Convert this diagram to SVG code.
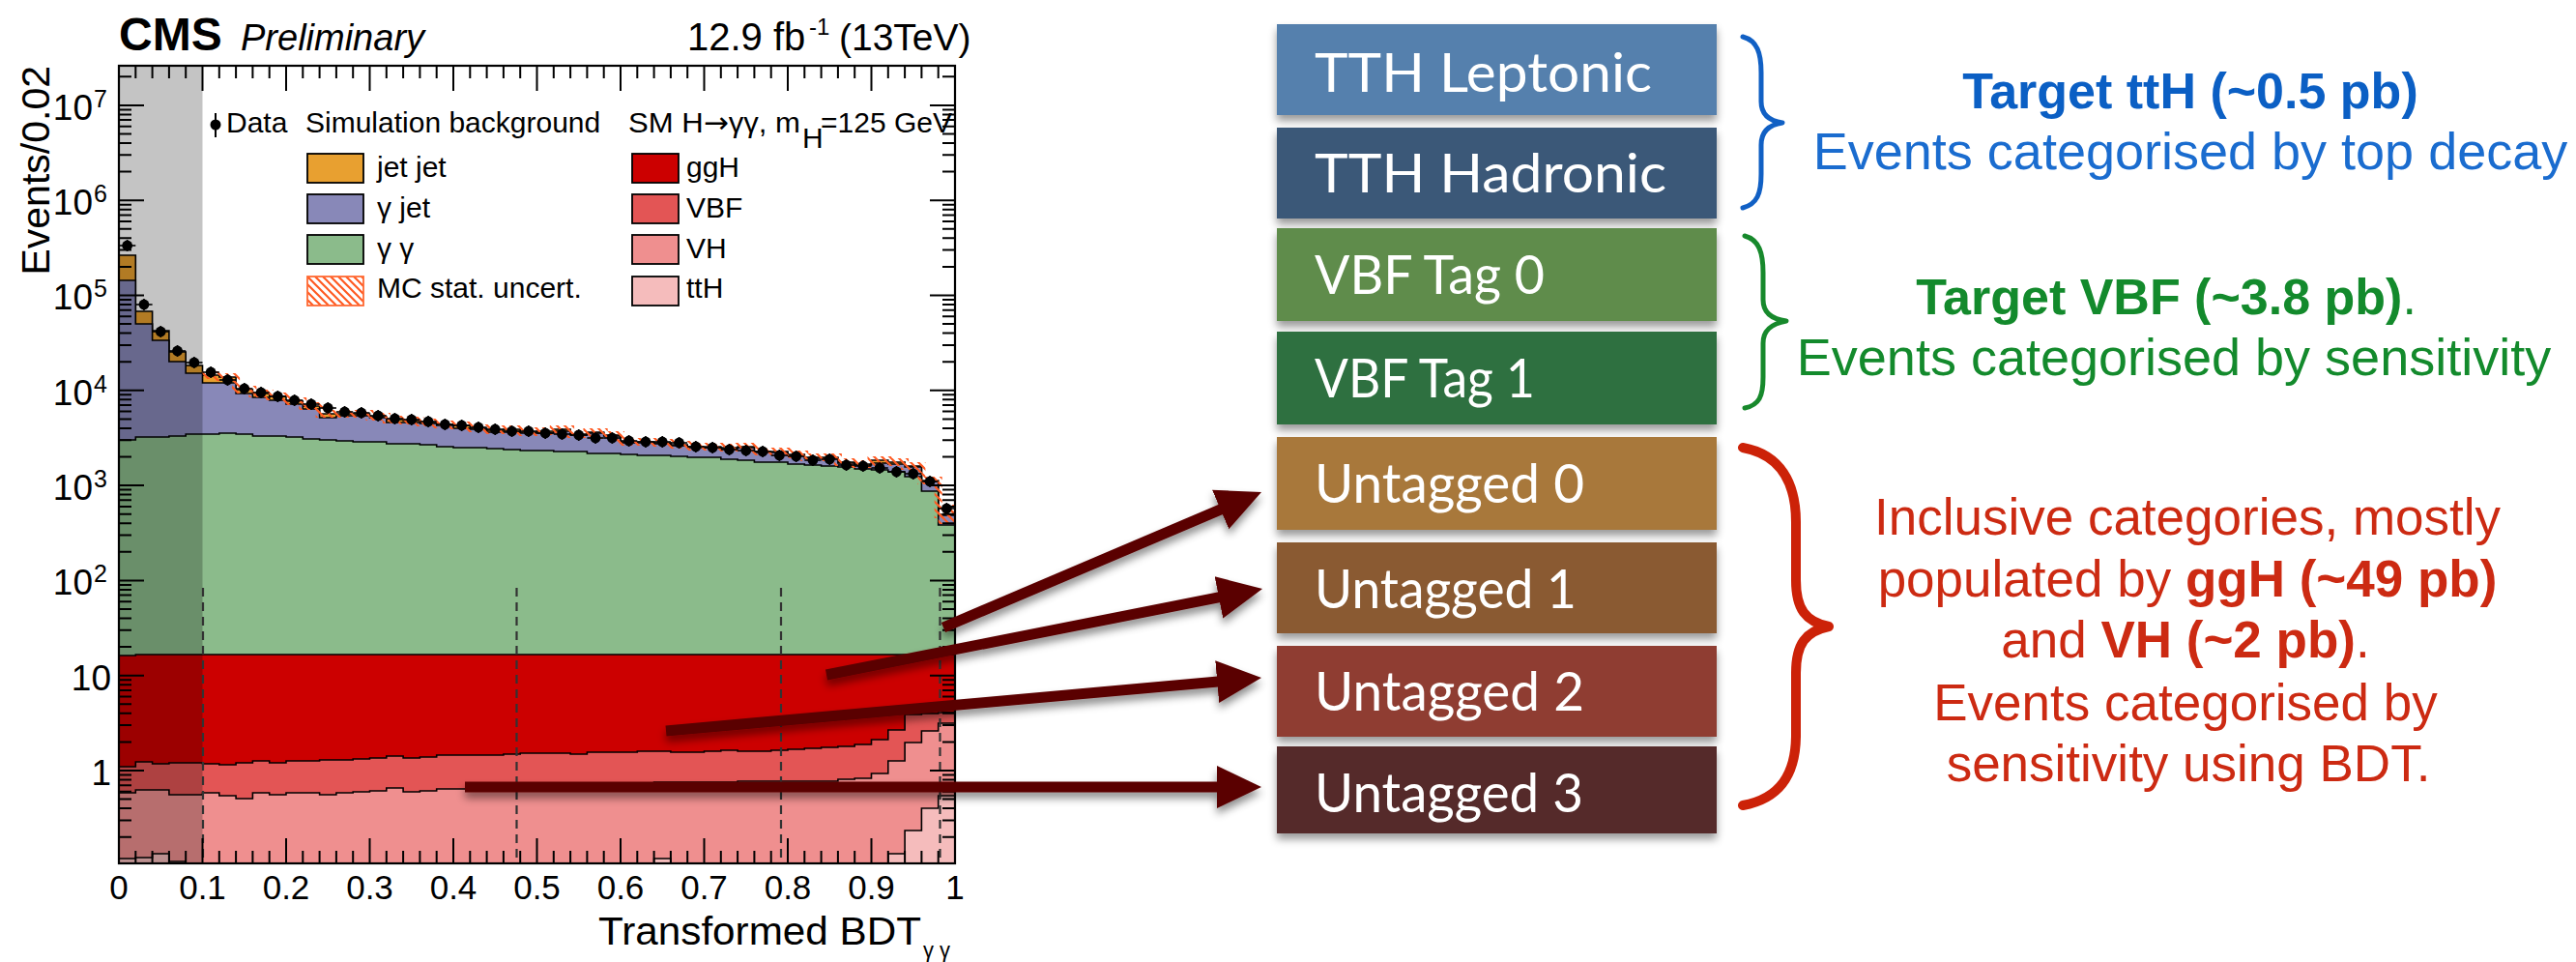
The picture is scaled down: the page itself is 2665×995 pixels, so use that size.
<svg xmlns="http://www.w3.org/2000/svg" xmlns:xlink="http://www.w3.org/1999/xlink" width="2665" height="995" viewBox="0 0 2665 995">
<style>
.sans{font-family:"Liberation Sans",Arial,Helvetica,sans-serif}
.lbl{font-family:"Liberation Sans",Arial,sans-serif;font-size:30px;fill:#000}
.tick{font-family:"Liberation Sans",Arial,sans-serif;font-size:37px;fill:#000}
.sup{font-family:"Liberation Sans",Arial,sans-serif;font-size:25px;fill:#000}
.xt{font-family:"Liberation Sans",Arial,sans-serif;font-size:35px;fill:#000;text-anchor:middle}
.hist{stroke:#000;stroke-width:1.6;stroke-linejoin:miter}
.box{filter:url(#dshadow)}
.boxt{font-family:Lato,"Open Sans","Liberation Sans",sans-serif;font-size:57px;fill:#fff}
.rt{font-family:"Liberation Sans",Arial,sans-serif;text-anchor:middle}
.b{font-weight:bold}
.arrow{fill:none;stroke:#5a0606;stroke-width:11;stroke-linecap:butt;marker-end:url(#ah)}
.brace{fill:none;stroke-linecap:round;stroke-linejoin:round}
.dash{stroke:#333;stroke-width:2.2;stroke-dasharray:9 6;fill:none}
</style>
<defs>
<clipPath id="frame"><rect x="123" y="68" width="865" height="825"/></clipPath>
<pattern id="hatch" patternUnits="userSpaceOnUse" width="8" height="8">
<path d="M-2,-2 L10,10 M-2,6 L2,10 M6,-2 L10,2" stroke="#ff5a22" stroke-width="2.2"/>
</pattern>
<filter id="dshadow" x="-5%" y="-10%" width="110%" height="140%">
<feDropShadow dx="0" dy="6" stdDeviation="4" flood-color="#000" flood-opacity="0.4"/>
</filter>
<filter id="ashadow" filterUnits="userSpaceOnUse" x="0" y="0" width="2665" height="995">
<feDropShadow dx="0" dy="6" stdDeviation="4" flood-color="#000" flood-opacity="0.45"/>
</filter>
<marker id="ah" markerUnits="userSpaceOnUse" markerWidth="46" markerHeight="46" viewBox="0 0 46 46" refX="1" refY="23" orient="auto">
<path d="M0,1 L46,23 L0,45 Z" fill="#5a0606"/>
</marker>
<g id="pt"><line x1="-8.65" y1="0" x2="8.65" y2="0" stroke="#000" stroke-width="1.6"/><line x1="0" y1="-6" x2="0" y2="6" stroke="#000" stroke-width="1.6"/><circle r="5.4" fill="#000"/></g>
<path id="yticks" d="M123,797h26M123,698.7h26M123,600.4h26M123,502.1h26M123,403.8h26M123,305.5h26M123,207.2h26M123,108.9h26M123,865.7h13M123,848.4h13M123,836.1h13M123,826.6h13M123,818.8h13M123,812.2h13M123,806.5h13M123,801.5h13M123,767.4h13M123,750.1h13M123,737.8h13M123,728.3h13M123,720.5h13M123,713.9h13M123,708.2h13M123,703.2h13M123,669.1h13M123,651.8h13M123,639.5h13M123,630h13M123,622.2h13M123,615.6h13M123,609.9h13M123,604.9h13M123,570.8h13M123,553.5h13M123,541.2h13M123,531.7h13M123,523.9h13M123,517.3h13M123,511.6h13M123,506.6h13M123,472.5h13M123,455.2h13M123,442.9h13M123,433.4h13M123,425.6h13M123,419h13M123,413.3h13M123,408.3h13M123,374.2h13M123,356.9h13M123,344.6h13M123,335.1h13M123,327.3h13M123,320.7h13M123,315h13M123,310h13M123,275.9h13M123,258.6h13M123,246.3h13M123,236.8h13M123,229h13M123,222.4h13M123,216.7h13M123,211.7h13M123,177.6h13M123,160.3h13M123,148h13M123,138.5h13M123,130.7h13M123,124.1h13M123,118.4h13M123,113.4h13M123,79.3h13" stroke="#000" stroke-width="2" fill="none"/>
<path id="xticks" d="M140.3,893v-13M157.6,893v-13M174.9,893v-13M192.2,893v-13M209.5,893v-26M226.8,893v-13M244.1,893v-13M261.4,893v-13M278.7,893v-13M296,893v-26M313.3,893v-13M330.6,893v-13M347.9,893v-13M365.2,893v-13M382.5,893v-26M399.8,893v-13M417.1,893v-13M434.4,893v-13M451.7,893v-13M469,893v-26M486.3,893v-13M503.6,893v-13M520.9,893v-13M538.2,893v-13M555.5,893v-26M572.8,893v-13M590.1,893v-13M607.4,893v-13M624.7,893v-13M642,893v-26M659.3,893v-13M676.6,893v-13M693.9,893v-13M711.2,893v-13M728.5,893v-26M745.8,893v-13M763.1,893v-13M780.4,893v-13M797.7,893v-13M815,893v-26M832.3,893v-13M849.6,893v-13M866.9,893v-13M884.2,893v-13M901.5,893v-26M918.8,893v-13M936.1,893v-13M953.4,893v-13M970.7,893v-13" stroke="#000" stroke-width="2" fill="none"/>
</defs>
<rect x="0" y="0" width="2665" height="995" fill="#fff"/>

<g id="plot">
<text class="sans b" x="123" y="52" font-size="48" font-weight="bold">CMS</text>
<text class="sans" x="249" y="52" font-size="38" font-style="italic">Preliminary</text>
<text class="sans" x="711" y="52" font-size="40">12.9 fb</text>
<text class="sans" x="837" y="36" font-size="24">-1</text>
<text class="sans" x="868" y="52" font-size="39">(13TeV)</text>

<g clip-path="url(#frame)">
<path class="hist" fill="#e8a030" d="M123,893 V264 H140.3 V322 H157.6 V342 H174.9 V364 H192.2 V378 H209.5 V388 H226.8 V390 H244.1 V403 H261.4 V407 H278.7 V410 H296 V415 H313.3 V420 H330.6 V428 H382.5 V431 H399.8 V434 H417.1 V435 H434.4 V437 H451.7 V439 H469 V440 H486.3 V443 H503.6 V445 H520.9 V444 H538.2 V447 H555.5 V446 H572.8 V444 H590.1 V449 H607.4 V447 H624.7 V450 H642 V457 H676.6 V458 H693.9 V460 H711.2 V462 H745.8 V463 H763.1 V462 H780.4 V467 H815 V470 H832.3 V473 H866.9 V478 H884.2 V480 H901.5 V476 H918.8 V478 H936.1 V482 H953.4 V497 H970.7 V532 H988 V893 Z"/>
<path class="hist" fill="#8888b8" d="M123,893 V290 H140.3 V335 H157.6 V352 H174.9 V374 H192.2 V386 H209.5 V396 H244.1 V407 H261.4 V411 H278.7 V414 H296 V418 H313.3 V423 H330.6 V432 H347.9 V430 H382.5 V432 H399.8 V437 H434.4 V438 H451.7 V440 H469 V443 H486.3 V444 H503.6 V447 H538.2 V448 H572.8 V446 H590.1 V450 H607.4 V448 H624.7 V451 H642 V458 H676.6 V459 H693.9 V461 H711.2 V463 H745.8 V464 H763.1 V463 H780.4 V468 H815 V471 H832.3 V474 H866.9 V479 H884.2 V481 H901.5 V479 H918.8 V480 H936.1 V483 H953.4 V498 H970.7 V533 H988 V893 Z"/>
<path class="hist" fill="#8bbb8b" d="M123,893 V455 H140.3 V452 H174.9 V451 H192.2 V449 H226.8 V448 H244.1 V449 H261.4 V451 H296 V452 H313.3 V454 H330.6 V455 H347.9 V456 H365.2 V457 H399.8 V459 H434.4 V460 H451.7 V462 H469 V463 H503.6 V464 H520.9 V465 H538.2 V466 H572.8 V467 H607.4 V469 H642 V470 H659.3 V471 H693.9 V472 H711.2 V473 H745.8 V475 H763.1 V476 H780.4 V478 H815 V480 H832.3 V481 H849.6 V482 H866.9 V483 H884.2 V485 H901.5 V486 H918.8 V488 H936.1 V493 H953.4 V508 H970.7 V543 H988 V893 Z"/>
<path class="hist" fill="#cc0000" d="M123,893 V678 H140.3 V677 H988 V893 Z"/>
<path class="hist" fill="#e35555" d="M123,893 V793 H140.3 V788 H157.6 V790 H174.9 V789 H209.5 V790 H226.8 V791 H244.1 V789 H261.4 V787 H278.7 V789 H296 V787 H330.6 V786 H365.2 V785 H382.5 V784 H399.8 V782 H417.1 V784 H434.4 V783 H451.7 V781 H520.9 V780 H538.2 V779 H590.1 V780 H607.4 V778 H659.3 V777 H693.9 V778 H728.5 V777 H745.8 V776 H763.1 V777 H797.7 V776 H815 V775 H832.3 V774 H849.6 V773 H866.9 V772 H884.2 V770 H901.5 V765 H918.8 V755 H936.1 V739 H953.4 V738 H970.7 V737 H988 V893 Z"/>
<path class="hist" fill="#ef8f8f" d="M123,893 V820 H140.3 V817 H174.9 V822 H209.5 V820 H226.8 V823 H244.1 V826 H261.4 V820 H278.7 V822 H296 V820 H330.6 V822 H347.9 V820 H365.2 V819 H382.5 V818 H399.8 V815 H417.1 V819 H434.4 V818 H451.7 V816 H503.6 V815 H538.2 V814 H572.8 V813 H590.1 V812 H624.7 V811 H642 V810 H676.6 V809 H763.1 V808 H866.9 V806 H884.2 V805 H901.5 V800 H918.8 V787 H936.1 V768 H953.4 V756 H970.7 V748 H988 V893 Z"/>
<path class="hist" fill="#f5bcbc" d="M123,893 V888 H140.3 V887 H157.6 V883 H174.9 V891 H192.2 V893 H676.6 V888 H693.9 V893 H918.8 V883 H936.1 V859 H953.4 V836 H970.7 V823 H988 V893 Z"/>
<path fill="none" stroke="url(#hatch)" stroke-width="8" d="M209.5,388 H226.8 V390 H244.1 V403 H261.4 V407 H278.7 V410 H296 V415 H313.3 V420 H330.6 V428 H382.5 V431 H399.8 V434 H417.1 V435 H434.4 V437 H451.7 V439 H469 V440 H486.3 V443 H503.6 V445 H520.9 V444 H538.2 V447 H555.5 V446 H572.8 V444 H590.1 V449 H607.4 V447 H624.7 V450 H642 V457 H676.6 V458 H693.9 V460 H711.2 V462 H745.8 V463 H763.1 V462 H780.4 V467 H815 V470 H832.3 V473 H866.9 V478 H884.2 V480 H901.5 V476 H918.8 V478 H936.1 V482 H953.4 V497 H970.7 V532 H988"/>
<rect x="970.7" y="522" width="17.3" height="20" fill="url(#hatch)"/>

<g id="data">
<use xlink:href="#pt" x="131.65" y="254"/><use xlink:href="#pt" x="148.95" y="315"/><use xlink:href="#pt" x="166.25" y="343"/><use xlink:href="#pt" x="183.55" y="363"/><use xlink:href="#pt" x="200.85" y="375"/>
<use xlink:href="#pt" x="218.15" y="385"/><use xlink:href="#pt" x="235.45" y="393"/><use xlink:href="#pt" x="252.75" y="402"/><use xlink:href="#pt" x="270.05" y="406"/><use xlink:href="#pt" x="287.35" y="410"/>
<use xlink:href="#pt" x="304.65" y="414"/><use xlink:href="#pt" x="321.95" y="418"/><use xlink:href="#pt" x="339.25" y="422"/><use xlink:href="#pt" x="356.55" y="426"/><use xlink:href="#pt" x="373.85" y="427"/>
<use xlink:href="#pt" x="391.15" y="430"/><use xlink:href="#pt" x="408.45" y="433"/><use xlink:href="#pt" x="425.75" y="434"/><use xlink:href="#pt" x="443.05" y="436"/><use xlink:href="#pt" x="460.35" y="439"/>
<use xlink:href="#pt" x="477.65" y="440"/><use xlink:href="#pt" x="494.95" y="442"/><use xlink:href="#pt" x="512.25" y="444"/><use xlink:href="#pt" x="529.55" y="446"/><use xlink:href="#pt" x="546.85" y="446"/>
<use xlink:href="#pt" x="564.15" y="448"/><use xlink:href="#pt" x="581.45" y="449"/><use xlink:href="#pt" x="598.75" y="450"/><use xlink:href="#pt" x="616.05" y="453"/><use xlink:href="#pt" x="633.35" y="453"/>
<use xlink:href="#pt" x="650.65" y="456"/><use xlink:href="#pt" x="667.95" y="457"/><use xlink:href="#pt" x="685.25" y="457"/><use xlink:href="#pt" x="702.55" y="458"/><use xlink:href="#pt" x="719.85" y="462"/>
<use xlink:href="#pt" x="737.15" y="463"/><use xlink:href="#pt" x="754.45" y="465"/><use xlink:href="#pt" x="771.75" y="466"/><use xlink:href="#pt" x="789.05" y="467"/><use xlink:href="#pt" x="806.35" y="471"/>
<use xlink:href="#pt" x="823.65" y="472"/><use xlink:href="#pt" x="840.95" y="476"/><use xlink:href="#pt" x="858.25" y="475"/><use xlink:href="#pt" x="875.55" y="481"/><use xlink:href="#pt" x="892.85" y="482"/>
<use xlink:href="#pt" x="910.15" y="484"/><use xlink:href="#pt" x="927.45" y="488"/><use xlink:href="#pt" x="944.75" y="490"/><use xlink:href="#pt" x="962.05" y="498"/><use xlink:href="#pt" x="979.35" y="526"/>
</g>

<rect x="123" y="68" width="86.5" height="825" fill="#000" fill-opacity="0.23"/>
<path class="dash" d="M210,608 V893 M534.5,608 V893 M808,608 V893 M972.5,608 V893"/>
</g>

<use xlink:href="#yticks"/>
<use xlink:href="#yticks" transform="translate(1111,0) scale(-1,1)"/>
<use xlink:href="#xticks"/>
<use xlink:href="#xticks" transform="translate(0,961) scale(1,-1)"/>
<rect x="123" y="68" width="865" height="825" fill="none" stroke="#000" stroke-width="2.2"/>

<text class="tick" x="96" y="124" text-anchor="end">10</text><text class="sup" x="97" y="111">7</text>
<text class="tick" x="96" y="222" text-anchor="end">10</text><text class="sup" x="97" y="209">6</text>
<text class="tick" x="96" y="320" text-anchor="end">10</text><text class="sup" x="97" y="307">5</text>
<text class="tick" x="96" y="419" text-anchor="end">10</text><text class="sup" x="97" y="406">4</text>
<text class="tick" x="96" y="517" text-anchor="end">10</text><text class="sup" x="97" y="504">3</text>
<text class="tick" x="96" y="615" text-anchor="end">10</text><text class="sup" x="97" y="602">2</text>
<text class="tick" x="115" y="714" text-anchor="end">10</text>
<text class="tick" x="115" y="812" text-anchor="end">1</text>

<text class="xt" x="123" y="930">0</text>
<text class="xt" x="209.5" y="930">0.1</text>
<text class="xt" x="296" y="930">0.2</text>
<text class="xt" x="382.5" y="930">0.3</text>
<text class="xt" x="469" y="930">0.4</text>
<text class="xt" x="555.5" y="930">0.5</text>
<text class="xt" x="642" y="930">0.6</text>
<text class="xt" x="728.5" y="930">0.7</text>
<text class="xt" x="815" y="930">0.8</text>
<text class="xt" x="901.5" y="930">0.9</text>
<text class="xt" x="988" y="930">1</text>

<text class="sans" x="619" y="977" font-size="40" textLength="334" lengthAdjust="spacingAndGlyphs">Transformed BDT</text>
<text class="sans" x="955" y="990" font-size="22">γ γ</text>
<text class="sans" font-size="41" transform="translate(51,68) rotate(-90)" text-anchor="end">Events/0.02</text>

<g id="legend">
<line x1="223" y1="117" x2="223" y2="142" stroke="#000" stroke-width="2"/>
<circle cx="223" cy="129" r="5.5" fill="#000"/>
<text class="lbl" x="234" y="137">Data</text>
<text class="lbl" x="316" y="137">Simulation background</text>
<text class="lbl" x="650" y="137" textLength="178" lengthAdjust="spacingAndGlyphs">SM H<tspan font-family="DejaVu Sans">→</tspan>γγ, m</text>
<text class="lbl" x="830" y="153" font-size="18">H</text>
<text class="lbl" x="849" y="137">=125 GeV</text>
<rect x="318" y="159" width="58" height="30" fill="#e8a030" stroke="#000" stroke-width="1.8"/>
<rect x="318" y="201" width="58" height="30" fill="#8888b8" stroke="#000" stroke-width="1.8"/>
<rect x="318" y="243" width="58" height="30" fill="#8bbb8b" stroke="#000" stroke-width="1.8"/>
<rect x="318" y="286" width="58" height="30" fill="url(#hatch)" stroke="#ff6a33" stroke-width="1.8"/>
<text class="lbl" x="390" y="183">jet jet</text>
<text class="lbl" x="390" y="225">γ jet</text>
<text class="lbl" x="390" y="267">γ γ</text>
<text class="lbl" x="390" y="308">MC stat. uncert.</text>
<rect x="654" y="159" width="48" height="30" fill="#cc0000" stroke="#000" stroke-width="1.8"/>
<rect x="654" y="201" width="48" height="30" fill="#e35555" stroke="#000" stroke-width="1.8"/>
<rect x="654" y="243" width="48" height="30" fill="#ef8f8f" stroke="#000" stroke-width="1.8"/>
<rect x="654" y="286" width="48" height="30" fill="#f5bcbc" stroke="#000" stroke-width="1.8"/>
<text class="lbl" x="710" y="183">ggH</text>
<text class="lbl" x="710" y="225">VBF</text>
<text class="lbl" x="710" y="267">VH</text>
<text class="lbl" x="710" y="308">ttH</text>
</g>
</g>

<g id="connectors" filter="url(#ashadow)">
<path class="arrow" d="M976,649 L1263.6,526.6"/>
<path class="arrow" d="M855,698 L1261.9,617.7"/>
<path class="arrow" d="M689,756 L1260.2,705"/>
<path class="arrow" d="M481,814 L1260,814"/>
</g>

<g id="node-tth-leptonic"><rect class="box" x="1321" y="25" width="455" height="94" fill="#5580ad"/><text class="boxt" x="1360" y="95" textLength="349" lengthAdjust="spacingAndGlyphs">TTH Leptonic</text></g>
<g id="node-tth-hadronic"><rect class="box" x="1321" y="132" width="455" height="94" fill="#3b5878"/><text class="boxt" x="1360" y="199" textLength="364" lengthAdjust="spacingAndGlyphs">TTH Hadronic</text></g>
<g id="node-vbf-tag0"><rect class="box" x="1321" y="236" width="455" height="96" fill="#5f8c4c"/><text class="boxt" x="1360" y="304" textLength="238" lengthAdjust="spacingAndGlyphs">VBF Tag 0</text></g>
<g id="node-vbf-tag1"><rect class="box" x="1321" y="343" width="455" height="96" fill="#2f7040"/><text class="boxt" x="1360" y="411" textLength="228" lengthAdjust="spacingAndGlyphs">VBF Tag 1</text></g>
<g id="node-untagged0"><rect class="box" x="1321" y="452" width="455" height="96" fill="#a8783a"/><text class="boxt" x="1360" y="520" textLength="279" lengthAdjust="spacingAndGlyphs">Untagged 0</text></g>
<g id="node-untagged1"><rect class="box" x="1321" y="561" width="455" height="94" fill="#8a5a32"/><text class="boxt" x="1360" y="629" textLength="271" lengthAdjust="spacingAndGlyphs">Untagged 1</text></g>
<g id="node-untagged2"><rect class="box" x="1321" y="668" width="455" height="94" fill="#8f3e30"/><text class="boxt" x="1360" y="735" textLength="279" lengthAdjust="spacingAndGlyphs">Untagged 2</text></g>
<g id="node-untagged3"><rect class="box" x="1321" y="772" width="455" height="90" fill="#552c2c"/><text class="boxt" x="1360" y="840" textLength="278" lengthAdjust="spacingAndGlyphs">Untagged 3</text></g>

<g id="group-tth">
<path class="brace" stroke="#1160c4" stroke-width="5" d="M1803,38 C1818,42 1822,55 1822,75 L1822,105 C1822,118 1830,125 1844,127 C1830,129 1822,136 1822,150 L1822,180 C1822,200 1818,211 1803,215"/>
<text class="rt b" x="2266" y="112" font-size="52" fill="#0b5fc4">Target ttH (~0.5 pb)</text>
<text class="rt" x="2266" y="175" font-size="54" fill="#1a6ccf">Events categorised by top decay</text>
</g>
<g id="group-vbf">
<path class="brace" stroke="#17892c" stroke-width="5" d="M1805,244 C1820,248 1824,262 1824,282 L1824,310 C1824,323 1832,330 1848,332 C1832,335 1824,342 1824,355 L1824,390 C1824,410 1820,419 1805,422"/>
<text class="rt" x="2241" y="325" font-size="52" fill="#138a2c"><tspan font-weight="bold">Target VBF (~3.8 pb)</tspan>.</text>
<text class="rt" x="2249" y="388" font-size="54" fill="#138a2c">Events categorised by sensitivity</text>
</g>
<g id="group-untagged">
<path class="brace" stroke="#cc2208" stroke-width="10" d="M1803,463 C1842,470 1858,500 1858,540 L1858,600 C1858,630 1868,643 1892,648 C1868,653 1858,666 1858,696 L1858,760 C1858,800 1842,826 1803,833"/>
<text class="rt" x="2263" y="553" font-size="53" fill="#cc2a12">Inclusive categories, mostly</text>
<text class="rt" x="2263" y="617" font-size="53" fill="#cc2a12">populated by <tspan font-weight="bold">ggH (~49 pb)</tspan></text>
<text class="rt" x="2261" y="680" font-size="53" fill="#cc2a12">and <tspan font-weight="bold">VH (~2 pb)</tspan>.</text>
<text class="rt" x="2261" y="745" font-size="53" fill="#cc2a12">Events categorised by</text>
<text class="rt" x="2264" y="808" font-size="53" fill="#cc2a12">sensitivity using BDT.</text>
</g>
</svg>
